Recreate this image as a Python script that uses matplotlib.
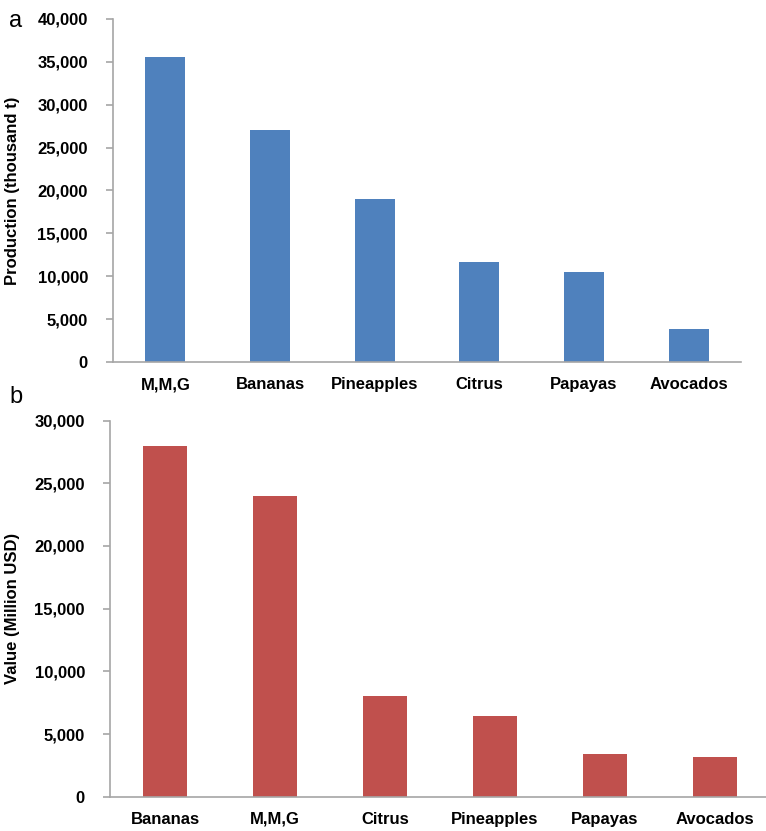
import matplotlib
matplotlib.use("Agg")
import matplotlib.pyplot as plt
from matplotlib.ticker import FuncFormatter, MultipleLocator

# Production (thousand t)
prod_categories = ["M,M,G", "Bananas", "Pineapples", "Citrus", "Papayas", "Avocados"]
prod_values = [35600, 27000, 19000, 11700, 10500, 3900]

# Value (Million USD)
value_categories = ["Bananas", "M,M,G", "Citrus", "Pineapples", "Papayas", "Avocados"]
value_values = [28000, 24000, 8000, 6400, 3400, 3150]

BLUE = "#4F81BD"
RED = "#C0504D"
AXIS_GRAY = "#A6A6A6"
FONT = ["Liberation Sans", "DejaVu Sans"]

fig = plt.figure(figsize=(7.66, 8.31), dpi=100)

ax1 = fig.add_axes([0.1475, 0.5644, 0.8198, 0.4128])
ax2 = fig.add_axes([0.1436, 0.0413, 0.8616, 0.4525])

comma = FuncFormatter(lambda v, p: f"{int(v):,}")


def style(ax, cats, vals, color, ymax, ylabel, width, label_x):
    x = range(len(cats))
    ax.bar(x, vals, width=width, color=color, zorder=2)
    ax.set_xlim(-0.5, len(cats) - 0.5)
    ax.set_ylim(0, ymax)
    ax.yaxis.set_major_locator(MultipleLocator(5000))
    ax.yaxis.set_major_formatter(comma)
    ax.set_xticks(list(x))
    ax.set_xticklabels(cats)
    for s in ("top", "right"):
        ax.spines[s].set_visible(False)
    for s in ("left", "bottom"):
        ax.spines[s].set_color(AXIS_GRAY)
        ax.spines[s].set_linewidth(1.2)
    ax.tick_params(axis="y", direction="out", length=5, color=AXIS_GRAY,
                   width=1.2, pad=13)
    ax.tick_params(axis="x", length=0, pad=11)
    for lab in ax.get_yticklabels() + ax.get_xticklabels():
        lab.set_fontfamily(FONT)
        lab.set_fontweight("bold")
        lab.set_fontsize(12)
    ax.set_ylabel(ylabel, fontfamily=FONT, fontweight="bold", fontsize=12)
    ax.yaxis.set_label_coords(label_x, 0.5)


style(ax1, prod_categories, prod_values, BLUE, 40000,
      "Production (thousand t)", 0.38, -0.148)
style(ax2, value_categories, value_values, RED, 30000,
      "Value (Million USD)", 0.40, -0.136)

fig.text(0.012, 0.9675, "a", fontsize=17, fontfamily="Liberation Sans",
         ha="left", va="baseline")
fig.text(0.012, 0.515, "b", fontsize=17, fontfamily="Liberation Sans",
         ha="left", va="baseline")

fig.savefig("out.png", dpi=100)
